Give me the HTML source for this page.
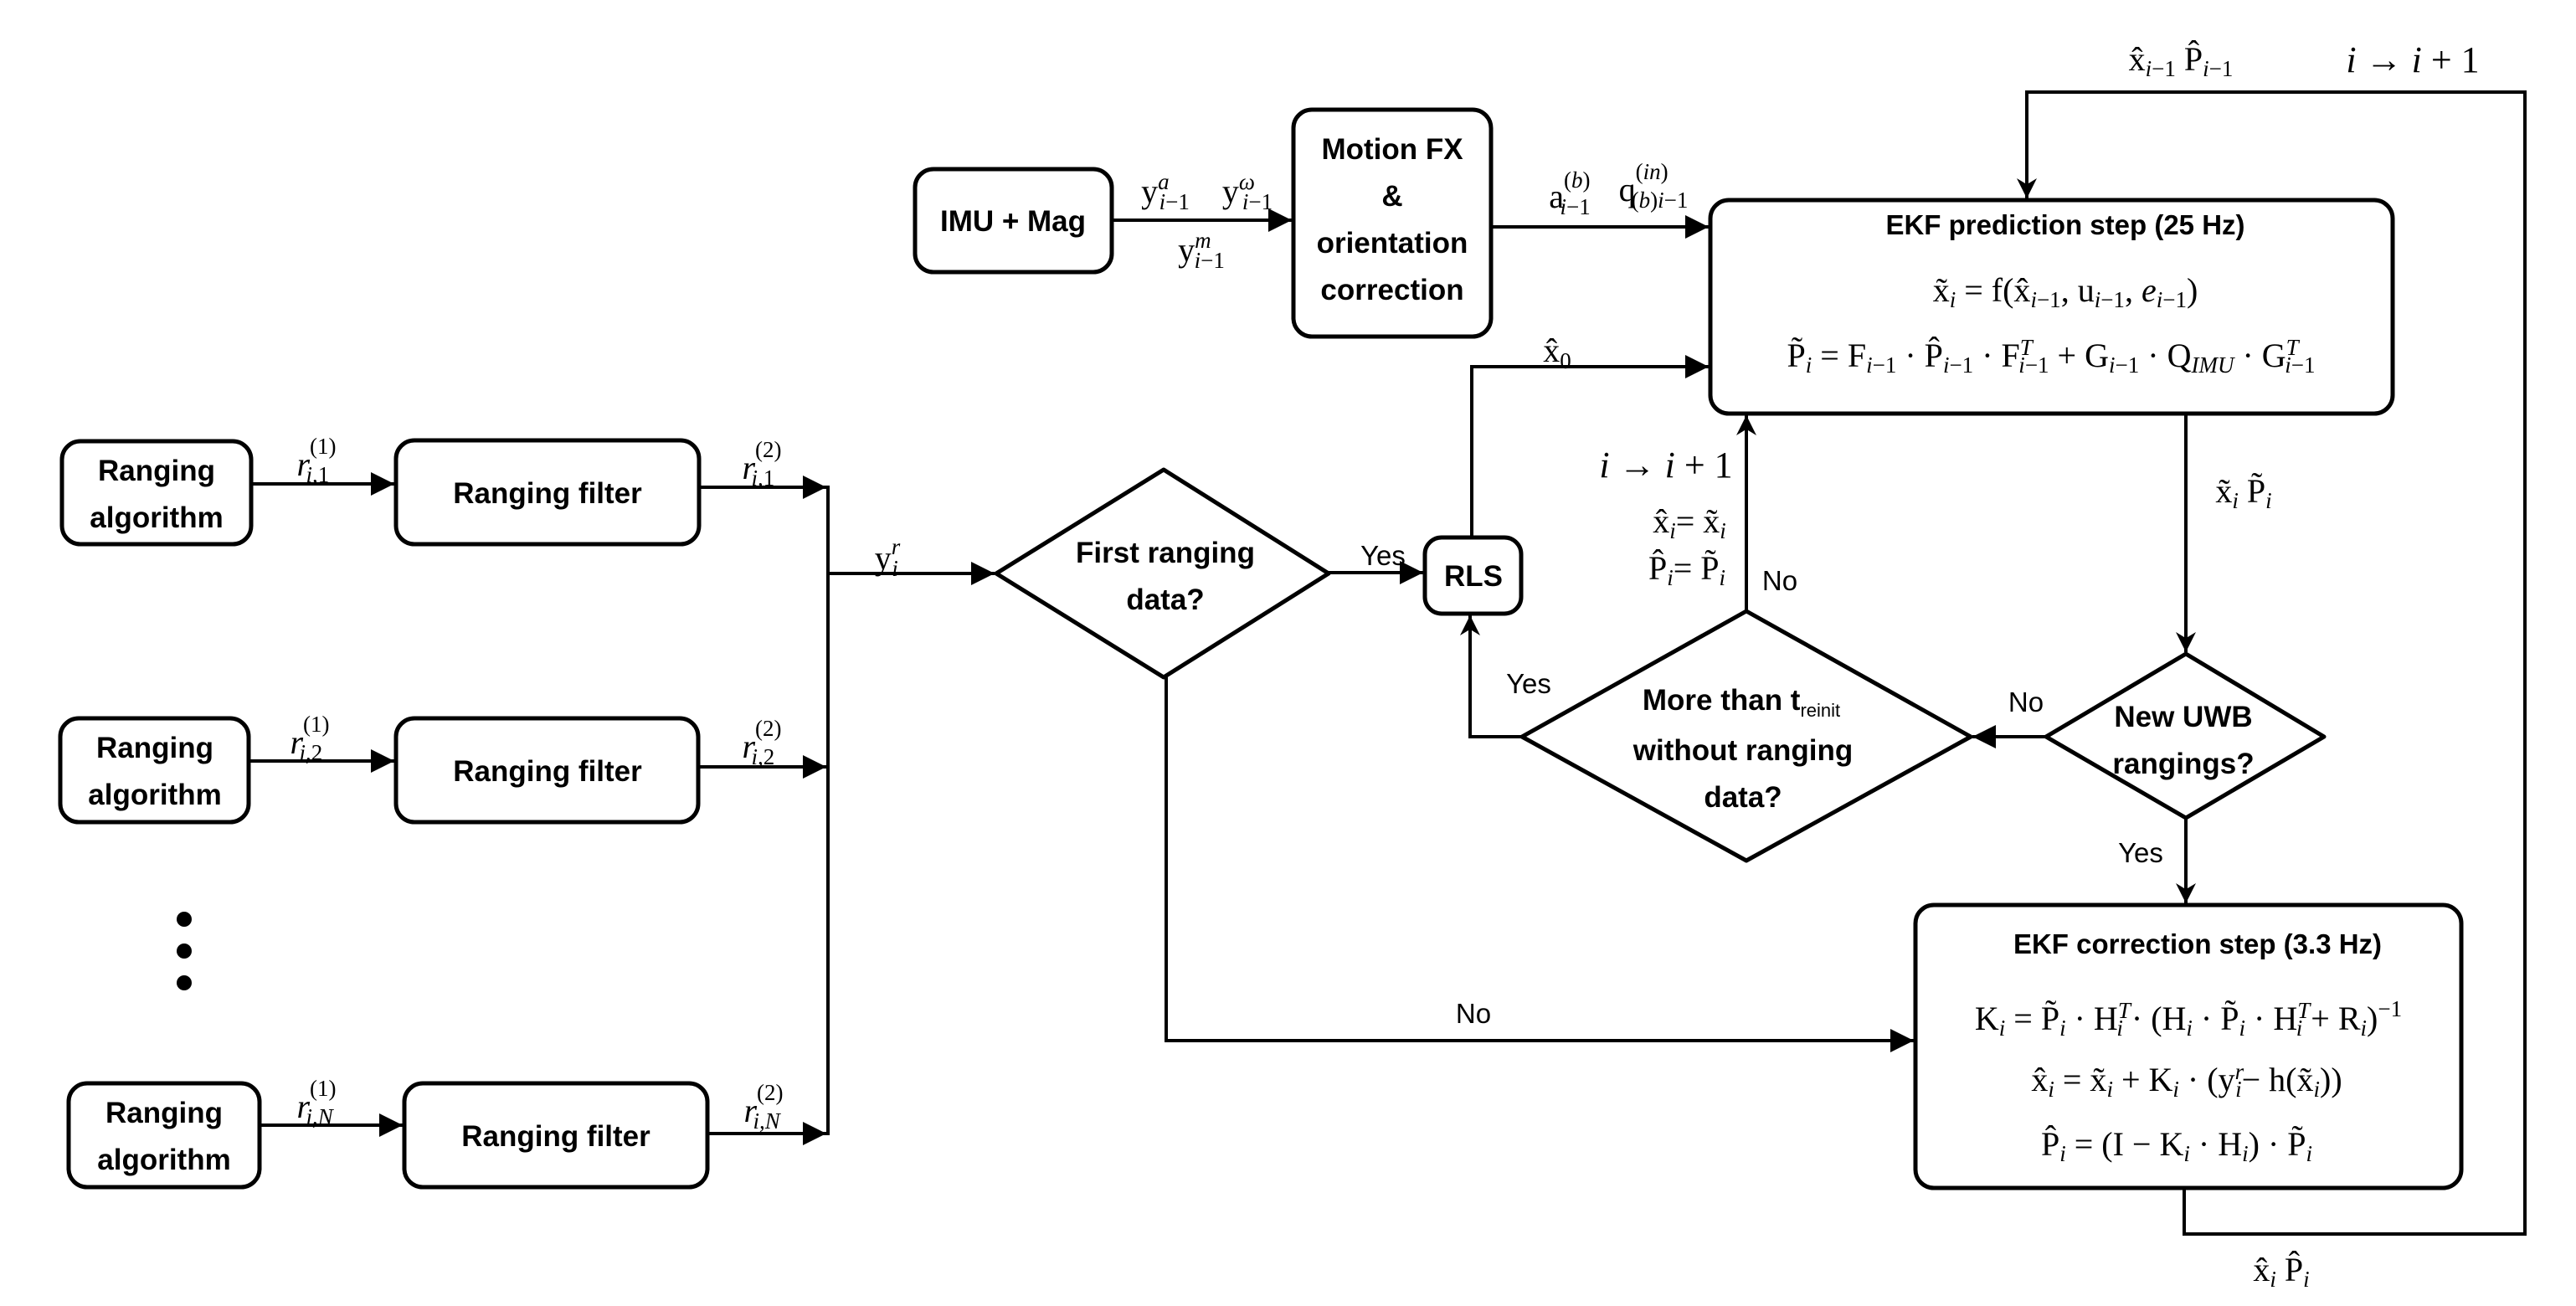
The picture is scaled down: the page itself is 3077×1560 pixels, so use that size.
<!DOCTYPE html>
<html><head><meta charset="utf-8"><style>
html,body{margin:0;padding:0;background:#fff}
svg{display:block}
.b{font-family:"Liberation Sans",sans-serif;font-weight:bold;font-size:35px;text-anchor:middle}
.n{font-family:"Liberation Sans",sans-serif;font-size:33px;text-anchor:middle}
.m{font-family:"Liberation Serif",serif;font-size:40px;text-anchor:middle}
.s{font-size:27px}
</style></head><body>
<svg width="3077" height="1560" viewBox="0 0 3077 1560" xmlns="http://www.w3.org/2000/svg">
<defs>
<marker id="a" viewBox="0 0 10 10" refX="10" refY="5" markerWidth="7" markerHeight="7" markerUnits="strokeWidth" orient="auto"><path d="M0,0L10,5L0,10z" fill="#000"/></marker>
<marker id="c" viewBox="0 0 10 10" refX="10" refY="5" markerWidth="10" markerHeight="6" markerUnits="strokeWidth" orient="auto"><path d="M0,0L10,5L0,10L3,5z" fill="#000"/></marker>
</defs>
<g fill="none" stroke="#000" stroke-width="5">
<rect x="1093" y="202" width="235" height="123" rx="22"/>
<rect x="1545" y="131" width="236" height="271" rx="22"/>
<rect x="2043" y="239" width="815" height="255" rx="22"/>
<rect x="2288" y="1081" width="652" height="338" rx="22"/>
<rect x="1702" y="642" width="115" height="91" rx="20"/>
<rect x="74" y="527" width="226" height="123" rx="22"/>
<rect x="473" y="526" width="362" height="124" rx="22"/>
<rect x="72" y="858" width="225" height="124" rx="22"/>
<rect x="473" y="858" width="361" height="124" rx="22"/>
<rect x="82" y="1294" width="228" height="124" rx="22"/>
<rect x="483" y="1294" width="362" height="124" rx="22"/>
<path d="M1190,685L1390,561L1587,685L1390,809Z" stroke-linejoin="round"/>
<path d="M1818,880L2086,730L2354,880L2086,1028Z" stroke-linejoin="round"/>
<path d="M2444,880L2611,781L2776,880L2611,977Z" stroke-linejoin="round"/>
</g>
<g fill="none" stroke="#000" stroke-width="4">
<line x1="300" y1="578" x2="471" y2="578" marker-end="url(#a)"/>
<line x1="835" y1="582" x2="987" y2="582" marker-end="url(#a)"/>
<line x1="297" y1="909" x2="471" y2="909" marker-end="url(#a)"/>
<line x1="834" y1="916" x2="987" y2="916" marker-end="url(#a)"/>
<line x1="310" y1="1344" x2="481" y2="1344" marker-end="url(#a)"/>
<line x1="845" y1="1354" x2="987" y2="1354" marker-end="url(#a)"/>
<line x1="989" y1="580" x2="989" y2="1356"/>
<line x1="989" y1="685" x2="1188" y2="685" marker-end="url(#a)"/>
<line x1="1328" y1="263" x2="1543" y2="263" marker-end="url(#a)"/>
<line x1="1781" y1="271" x2="2041" y2="271" marker-end="url(#a)"/>
<line x1="1587" y1="684" x2="1700" y2="684" marker-end="url(#a)"/>
<polyline points="1758,642 1758,438 2041,438" marker-end="url(#a)"/>
<polyline points="1393,809 1393,1243 2286,1243" marker-end="url(#a)"/>
<polyline points="1818,880 1756,880 1756,735" marker-end="url(#c)"/>
<line x1="2086" y1="730" x2="2086" y2="496" marker-end="url(#c)"/>
<line x1="2611" y1="494" x2="2611" y2="779" marker-end="url(#c)"/>
<line x1="2444" y1="880" x2="2356" y2="880" marker-end="url(#a)"/>
<line x1="2611" y1="977" x2="2611" y2="1079" marker-end="url(#c)"/>
<polyline points="2609,1419 2609,1474 3016,1474 3016,110 2421,110 2421,237" marker-end="url(#c)"/>
</g>
<g fill="#000">
<circle cx="220" cy="1098" r="9"/><circle cx="220" cy="1136" r="9"/><circle cx="220" cy="1174" r="9"/>
</g>
<g class="b">
<text x="1210" y="276">IMU + Mag</text>
<text x="1663" y="190">Motion FX</text>
<text x="1663" y="246">&amp;</text>
<text x="1663" y="302">orientation</text>
<text x="1663" y="358">correction</text>
<text x="2467" y="280" font-size="33">EKF prediction step (25 Hz)</text>
<text x="2625" y="1139" font-size="33">EKF correction step (3.3 Hz)</text>
<text x="1760" y="700">RLS</text>
<text x="187" y="574">Ranging</text><text x="187" y="630">algorithm</text>
<text x="654" y="601">Ranging filter</text>
<text x="185" y="905">Ranging</text><text x="185" y="961">algorithm</text>
<text x="654" y="933">Ranging filter</text>
<text x="196" y="1341">Ranging</text><text x="196" y="1397">algorithm</text>
<text x="664" y="1369">Ranging filter</text>
<text x="1392" y="672">First ranging</text><text x="1392" y="728">data?</text>
<text x="2080" y="848">More than t<tspan font-size="22" font-weight="normal" dy="8">reinit</tspan></text>
<text x="2082" y="908">without ranging</text>
<text x="2082" y="964">data?</text>
<text x="2608" y="868">New UWB</text><text x="2608" y="924">rangings?</text>
</g>
<g class="n">
<text x="1652" y="675">Yes</text>
<text x="1826" y="828">Yes</text>
<text x="2126" y="705">No</text>
<text x="2420" y="850">No</text>
<text x="2557" y="1030">Yes</text>
<text x="1760" y="1222">No</text>
</g>
<g class="m">
<text x="1392" y="242">y<tspan class="s" dy="-16" font-style="italic">a</tspan><tspan class="s" dy="24" dx="-12" font-style="italic">i</tspan><tspan class="s">−1</tspan></text>
<text x="1490" y="242">y<tspan class="s" dy="-16" font-style="italic">ω</tspan><tspan class="s" dy="24" dx="-15" font-style="italic">i</tspan><tspan class="s">−1</tspan></text>
<text x="1435" y="312">y<tspan class="s" dy="-16" font-style="italic">m</tspan><tspan class="s" dy="24" dx="-20" font-style="italic">i</tspan><tspan class="s">−1</tspan></text>
<text x="1875" y="248">a<tspan class="s" dy="-24">(<tspan font-style="italic">b</tspan>)</tspan><tspan class="s" dy="32" dx="-36"><tspan font-style="italic">i</tspan>−1</tspan></text>
<text x="1975" y="240">q<tspan class="s" dy="-26">(<tspan font-style="italic">in</tspan>)</tspan><tspan class="s" dy="34" dx="-44">(<tspan font-style="italic">b</tspan>)<tspan font-style="italic">i</tspan>−1</tspan></text>
<text x="1860" y="432">x̂<tspan class="s" dy="8">0</tspan></text>
<text x="1060" y="680">y<tspan class="s" dy="-18" font-style="italic">r</tspan><tspan class="s" dy="26" dx="-10" font-style="italic">i</tspan></text>
<text x="378" y="568" font-style="italic">r<tspan class="s" dy="-26" font-style="normal">(1)</tspan><tspan class="s" dy="34" dx="-36">i,<tspan font-style="normal">1</tspan></tspan></text>
<text x="910" y="572" font-style="italic">r<tspan class="s" dy="-26" font-style="normal">(2)</tspan><tspan class="s" dy="34" dx="-36">i,<tspan font-style="normal">1</tspan></tspan></text>
<text x="370" y="900" font-style="italic">r<tspan class="s" dy="-26" font-style="normal">(1)</tspan><tspan class="s" dy="34" dx="-36">i,<tspan font-style="normal">2</tspan></tspan></text>
<text x="910" y="905" font-style="italic">r<tspan class="s" dy="-26" font-style="normal">(2)</tspan><tspan class="s" dy="34" dx="-36">i,<tspan font-style="normal">2</tspan></tspan></text>
<text x="378" y="1335" font-style="italic">r<tspan class="s" dy="-26" font-style="normal">(1)</tspan><tspan class="s" dy="34" dx="-36">i,N</tspan></text>
<text x="912" y="1340" font-style="italic">r<tspan class="s" dy="-26" font-style="normal">(2)</tspan><tspan class="s" dy="34" dx="-36">i,N</tspan></text>
<text x="2467" y="360">x̃<tspan class="s" dy="7" font-style="italic">i</tspan><tspan dy="-7"> = f(x̂</tspan><tspan class="s" dy="7"><tspan font-style="italic">i</tspan>−1</tspan><tspan dy="-7">, u</tspan><tspan class="s" dy="7"><tspan font-style="italic">i</tspan>−1</tspan><tspan dy="-7">, </tspan><tspan font-style="italic">e</tspan><tspan class="s" dy="7"><tspan font-style="italic">i</tspan>−1</tspan><tspan dy="-7">)</tspan></text>
<text x="2450" y="438">P̃<tspan class="s" dy="7" font-style="italic">i</tspan><tspan dy="-7"> = F</tspan><tspan class="s" dy="7"><tspan font-style="italic">i</tspan>−1</tspan><tspan dy="-7"> · P̂</tspan><tspan class="s" dy="7"><tspan font-style="italic">i</tspan>−1</tspan><tspan dy="-7"> · F</tspan><tspan class="s" dy="-14" font-style="italic">T</tspan><tspan class="s" dy="21" dx="-15"><tspan font-style="italic">i</tspan>−1</tspan><tspan dy="-7"> + G</tspan><tspan class="s" dy="7"><tspan font-style="italic">i</tspan>−1</tspan><tspan dy="-7"> · Q</tspan><tspan class="s" dy="7" font-style="italic">IMU</tspan><tspan dy="-7"> · G</tspan><tspan class="s" dy="-14" font-style="italic">T</tspan><tspan class="s" dy="21" dx="-15"><tspan font-style="italic">i</tspan>−1</tspan></text>
<text x="2614" y="1230">K<tspan class="s" dy="7" font-style="italic">i</tspan><tspan dy="-7"> = P̃</tspan><tspan class="s" dy="7" font-style="italic">i</tspan><tspan dy="-7"> · H</tspan><tspan class="s" dy="-14" font-style="italic">T</tspan><tspan class="s" dy="21" dx="-15" font-style="italic">i</tspan><tspan dy="-7"> · (H</tspan><tspan class="s" dy="7" font-style="italic">i</tspan><tspan dy="-7"> · P̃</tspan><tspan class="s" dy="7" font-style="italic">i</tspan><tspan dy="-7"> · H</tspan><tspan class="s" dy="-14" font-style="italic">T</tspan><tspan class="s" dy="21" dx="-15" font-style="italic">i</tspan><tspan dy="-7"> + R</tspan><tspan class="s" dy="7" font-style="italic">i</tspan><tspan dy="-7">)</tspan><tspan class="s" dy="-16">−1</tspan></text>
<text x="2612" y="1303">x̂<tspan class="s" dy="7" font-style="italic">i</tspan><tspan dy="-7"> = x̃</tspan><tspan class="s" dy="7" font-style="italic">i</tspan><tspan dy="-7"> + K</tspan><tspan class="s" dy="7" font-style="italic">i</tspan><tspan dy="-7"> · (y</tspan><tspan class="s" dy="-14" font-style="italic">r</tspan><tspan class="s" dy="21" dx="-10" font-style="italic">i</tspan><tspan dy="-7">− h(x̃</tspan><tspan class="s" dy="7" font-style="italic">i</tspan><tspan dy="-7">))</tspan></text>
<text x="2600" y="1380">P̂<tspan class="s" dy="7" font-style="italic">i</tspan><tspan dy="-7"> = (I − K</tspan><tspan class="s" dy="7" font-style="italic">i</tspan><tspan dy="-7"> · H</tspan><tspan class="s" dy="7" font-style="italic">i</tspan><tspan dy="-7">) · P̃</tspan><tspan class="s" dy="7" font-style="italic">i</tspan></text>
<text x="1990" y="570" font-size="44"><tspan font-style="italic">i</tspan> → <tspan font-style="italic">i</tspan> + 1</text>
<text x="2018" y="636">x̂<tspan class="s" dy="7" font-style="italic">i</tspan><tspan dy="-7">= x̃</tspan><tspan class="s" dy="7" font-style="italic">i</tspan></text>
<text x="2015" y="692">P̂<tspan class="s" dy="7" font-style="italic">i</tspan><tspan dy="-7">= P̃</tspan><tspan class="s" dy="7" font-style="italic">i</tspan></text>
<text x="2680" y="600">x̃<tspan class="s" dy="7" font-style="italic">i</tspan><tspan dy="-7"> P̃</tspan><tspan class="s" dy="7" font-style="italic">i</tspan></text>
<text x="2605" y="84">x̂<tspan class="s" dy="7"><tspan font-style="italic">i</tspan>−1</tspan><tspan dy="-7"> P̂</tspan><tspan class="s" dy="7"><tspan font-style="italic">i</tspan>−1</tspan></text>
<text x="2882" y="86" font-size="44"><tspan font-style="italic">i</tspan> → <tspan font-style="italic">i</tspan> + 1</text>
<text x="2725" y="1530">x̂<tspan class="s" dy="7" font-style="italic">i</tspan><tspan dy="-7"> P̂</tspan><tspan class="s" dy="7" font-style="italic">i</tspan></text>
</g>
</svg>
</body></html>
